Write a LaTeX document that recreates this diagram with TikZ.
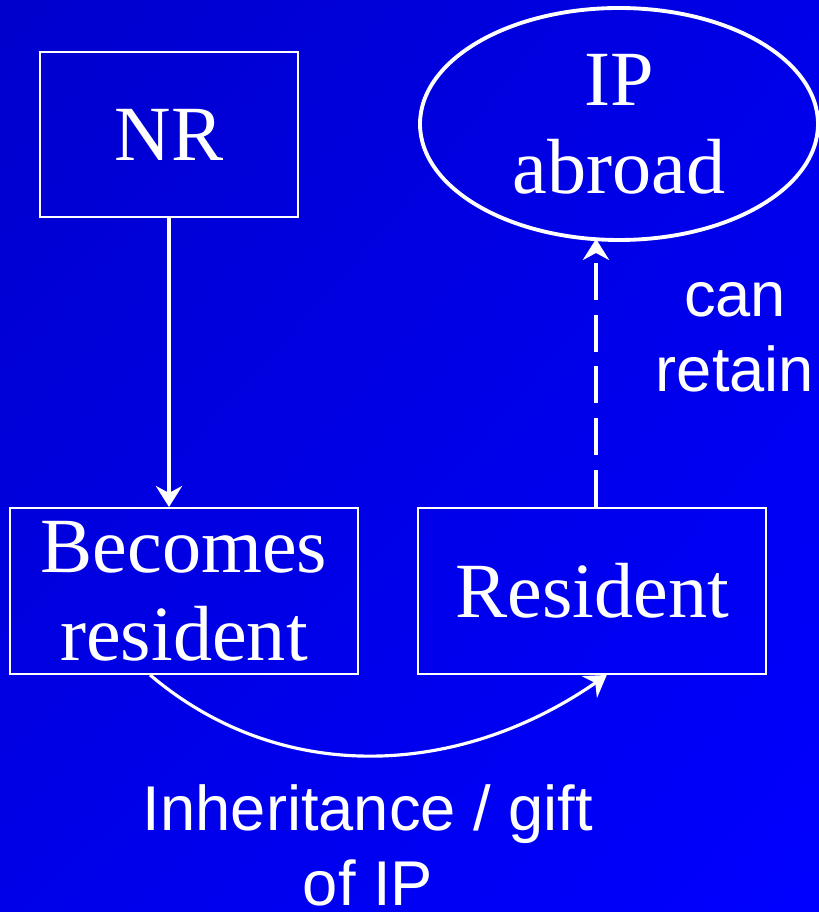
\documentclass[tikz,border=0pt]{standalone}
\usepackage{fontspec}
\setmainfont{Liberation Serif}
\setsansfont{Liberation Sans}
\usetikzlibrary{calc}
\usetikzlibrary{arrows.meta}
\usetikzlibrary{shapes.geometric}
\usetikzlibrary{shadings}

\definecolor{bgdark}{RGB}{0,0,204}
\definecolor{bgmid}{RGB}{0,0,232}
\definecolor{bglight}{RGB}{0,0,255}

\tikzset{
  statebox/.style={draw=white, line width=1.1pt, inner sep=0pt, align=center,
    text=white, font=\fontsize{44.5}{50}\selectfont},
  saying/.style={text=white, align=center, inner sep=0pt,
    font=\sffamily\fontsize{36}{42.5}\selectfont},
  flow/.style={white, line width=1.8pt, -{Stealth[length=12pt,width=15pt,inset=4pt]}}
}

\begin{document}
\begin{tikzpicture}

\useasboundingbox (0,0) rectangle (16.38,18.24);
\shade[upper left=bgdark, upper right=bgmid, lower left=bgmid, lower right=bglight]
  (0,0) rectangle (16.38,18.24);

\node[statebox, minimum width=5.16cm, minimum height=3.3cm] (nr) at (3.38,15.55) {NR};
\node[statebox, minimum width=6.96cm, minimum height=3.32cm] (becomes) at (3.68,6.42) {Becomes\\resident};
\node[statebox, minimum width=6.96cm, minimum height=3.32cm] (resident) at (11.84,6.42) {Resident};
\node[statebox, ellipse, line width=2.2pt, minimum width=7.96cm, minimum height=4.64cm] (ipab) at (12.38,15.76) {IP\\abroad};

\node[saying] (retain) at (14.7,11.49) {can\\retain};
\node[saying] (gift) at (7.36,1.33) {Inheritance / gift\\of IP};

\draw[flow] (nr.south) -- (nr.south |- becomes.north);
\draw[flow, dash pattern=on 21pt off 8.5pt] ($(resident.north)+(0.08,0)$) -- ($(resident.north |- ipab.south)+(0.08,0.06)$);
\draw[flow] (becomes.-112) .. controls +(2.64,-2.24) and +(-2.94,-2.04) .. (resident.-80);

\end{tikzpicture}
\end{document}
